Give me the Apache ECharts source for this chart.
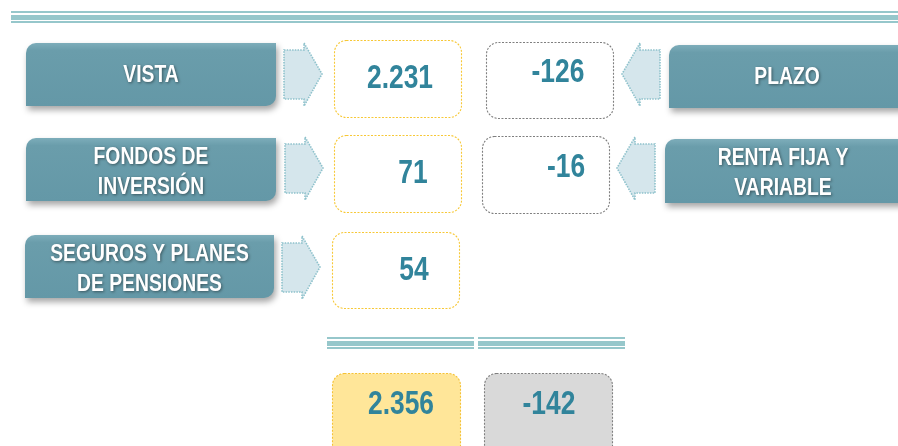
<!DOCTYPE html>
<html><head><meta charset="utf-8">
<script src="https://cdn.jsdelivr.net/npm/echarts@6/dist/echarts.min.js"></script>
<style>html,body{margin:0;padding:0;background:#fff}#c{width:898px;height:446px}</style>
</head><body><div id="c"></div>
<script>
// ---- data ----
const leftLabels = ['VISTA', 'FONDOS DE\nINVERSIÓN', 'SEGUROS Y PLANES\nDE PENSIONES'];
const leftValues = [2231, 71, 54];
const rightLabels = ['PLAZO', 'RENTA FIJA Y\nVARIABLE'];
const rightValues = [-126, -16];
const totalValues = [2356, -142];

function fmt(v) {
  const s = Math.abs(v).toString().replace(/\B(?=(\d{3})+(?!\d))/g, '.');
  return (v < 0 ? '-' : '') + s;
}

const FONT = "'Liberation Sans',Arial,sans-serif";
const LINE = '#96C7CB';
const BOXFILL = {type:'linear',x:0,y:0,x2:0,y2:1,colorStops:[{offset:0,color:'#7DADBA'},{offset:0.12,color:'#6A9DAB'},{offset:1,color:'#6498A7'}]};
const NUMCOL = '#31849B';

// layout (pixels)
const leftRows = [
  {box:[26,43,250,63], arrow:[284,43], vbox:[334,40,127,77], tx:400, ty:79},
  {box:[26,138,250,63], arrow:[285,137], vbox:[334,135,127,77], tx:413, ty:174},
  {box:[25,235,249,63], arrow:[282,236], vbox:[332,232,127,76], tx:414, ty:271}
];
const rightRows = [
  {box:[669,45,240,63], arrow:[622,43], vbox:[486,42,127,76], tx:558, ty:73},
  {box:[665,139,244,64], arrow:[617,137], vbox:[482,136,127,77], tx:566, ty:168}
];
const totalRows = [
  {vbox:[332,373,128,90], fill:'#FFE699', stroke:'#F5C234', tx:401, ty:405},
  {vbox:[484,373,128,90], fill:'#D9D9D9', stroke:'#7F7F7F', tx:549, ty:405}
];

const g = [];
function tripleLine(x1, x2, y) {
  g.push({type:'rect', shape:{x:x1,y:y,width:x2-x1,height:2}, style:{fill:LINE}});
  g.push({type:'rect', shape:{x:x1,y:y+4,width:x2-x1,height:5}, style:{fill:LINE}});
  g.push({type:'rect', shape:{x:x1,y:y+10,width:x2-x1,height:2}, style:{fill:LINE}});
}
tripleLine(11, 898, 11);
tripleLine(327, 474, 337);
tripleLine(478, 625, 337);

function labelBox(b, r, text, cx) {
  g.push({type:'rect', shape:{x:b[0],y:b[1],width:b[2],height:b[3],r:r},
    style:{fill:BOXFILL, shadowBlur:6, shadowOffsetX:2, shadowOffsetY:4, shadowColor:'rgba(0,0,0,0.35)'}});
  const dy = text.indexOf('\n') >= 0 ? 3 : 1;
  g.push({type:'text', x:cx, y:b[1]+b[3]/2+dy, scaleX:0.84, style:{text:text, fill:'#fff', font:'bold 23px '+FONT,
    align:'center', verticalAlign:'middle', lineHeight:30,
    textShadowColor:'rgba(0,0,0,0.45)', textShadowBlur:3, textShadowOffsetX:1, textShadowOffsetY:1}});
}
function arrow(x, y, dir) {
  let pts = [[0,7],[20,7],[20,0],[38,31],[20,63],[20,56],[0,56]];
  if (dir < 0) pts = pts.map(p => [38 - p[0], p[1]]);
  g.push({type:'polygon', shape:{points: pts.map(p => [x + p[0], y + p[1]])},
    style:{fill:'#D5E6EC', stroke:'#8DC1CB', lineWidth:1.6, lineDash:[1.5,1.2]}});
}
function valBox(b, fill, stroke, text, tx, ty) {
  g.push({type:'rect', shape:{x:b[0]+0.5,y:b[1]+0.5,width:b[2],height:b[3],r:12},
    style:{fill:fill, stroke:stroke, lineWidth:1.1, lineDash:[2,1.5]}});
  g.push({type:'text', x:tx, y:ty, scaleX:0.8, style:{text:text, fill:NUMCOL, font:'bold 33px '+FONT,
    align:'center', verticalAlign:'middle'}});
}

leftRows.forEach((L, i) => {
  labelBox(L.box, [10,0,10,0], leftLabels[i], L.box[0] + L.box[2]/2);
  arrow(L.arrow[0], L.arrow[1], 1);
  valBox(L.vbox, '#fff', '#F7C836', fmt(leftValues[i]), L.tx, L.ty);
});
rightRows.forEach((R, i) => {
  labelBox(R.box, [10,0,0,0], rightLabels[i], R.box[0] + 118);
  arrow(R.arrow[0], R.arrow[1], -1);
  valBox(R.vbox, '#fff', '#7F7F7F', fmt(rightValues[i]), R.tx, R.ty);
});
totalRows.forEach((T, i) => {
  valBox(T.vbox, T.fill, T.stroke, fmt(totalValues[i]), T.tx, T.ty);
});

const chart = echarts.init(document.getElementById('c'));
chart.setOption({backgroundColor:'#fff', graphic:{elements:g}});
</script></body></html>
